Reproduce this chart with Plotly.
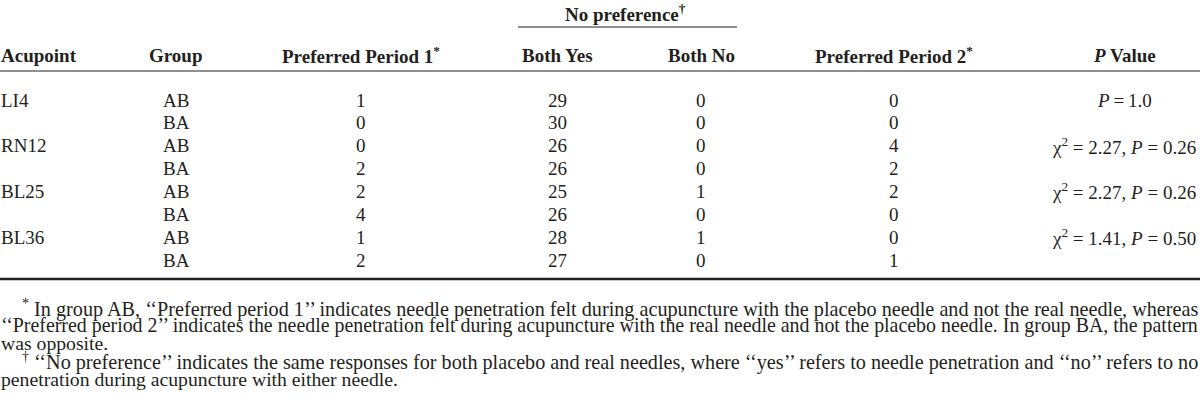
import plotly.graph_objects as go

# ---------------- data ----------------
acupoints = ["LI4", "RN12", "BL25", "BL36"]
groups = ["AB", "BA", "AB", "BA", "AB", "BA", "AB", "BA"]
preferred_period_1 = [1, 0, 0, 2, 2, 4, 1, 2]
both_yes = [29, 30, 26, 26, 25, 26, 28, 27]
both_no = [0, 0, 0, 0, 1, 0, 1, 0]
preferred_period_2 = [0, 0, 4, 2, 2, 0, 0, 1]
chi_square = [None, "2.27", "2.27", "1.41"]
p_values = ["1.0", "0.26", "0.26", "0.50"]
column_headers = ["Acupoint", "Group", "Preferred Period 1<sup>*</sup>", "Both Yes",
                  "Both No", "Preferred Period 2<sup>*</sup>", "<i>P</i> Value"]
spanner_header = "No preference<sup>†</sup>"
footnote_lines = [
    "<sup>*</sup> In group AB, ‘‘Preferred period 1’’ indicates needle penetration felt during acupuncture with the placebo needle and not the real needle, whereas",
    "‘‘Preferred period 2’’ indicates the needle penetration felt during acupuncture with the real needle and not the placebo needle. In group BA, the pattern",
    "was opposite.",
    "<sup>†</sup> ‘‘No preference’’ indicates the same responses for both placebo and real needles, where ‘‘yes’’ refers to needle penetration and ‘‘no’’ refers to no",
    "penetration during acupuncture with either needle.",
]

# ---------------- layout constants ----------------
W, H = 1200, 407
FONT = "Liberation Serif, Times New Roman, serif"
COLOR = "#231f20"
FS = 19
NOTE_SIZES = [20.2, 19.9, 19.7, 20.2, 19.7]   # justified lines are slightly wider
ROW0, ROW_H = 100, 22.86
HEADER_Y = 55
COL_X = [0, 176, 361, 557, 701, 894, 1124]
NOTE_Y = [307.5, 325, 342.5, 360.5, 379]
NOTE_X = [21, 0, 0, 21, 0]

fig = go.Figure()
ann = []


def add_text(x, y, text, anchor="center", size=FS, bold=False):
    ann.append(dict(x=x, y=y, xref="x", yref="y", text=f"<b>{text}</b>" if bold else text,
                    showarrow=False, xanchor=anchor, yanchor="middle", borderpad=0,
                    font=dict(family=FONT, size=size, color=COLOR)))


# headers
for i, h in enumerate(column_headers):
    add_text(COL_X[i], HEADER_Y, h, anchor="left" if i == 0 else "center", bold=True)
add_text(625, 13, spanner_header, bold=True)

# body
for r in range(len(groups)):
    y = ROW0 + r * ROW_H
    if r % 2 == 0:
        k = r // 2
        add_text(COL_X[0], y, acupoints[k], anchor="left")
        if chi_square[k] is None:
            pv = f"<i>P</i>\u2009=\u2009{p_values[k]}"
        else:
            pv = f"χ<sup>2</sup> = {chi_square[k]}, <i>P</i> = {p_values[k]}"
        add_text(COL_X[6], y, pv)
    add_text(COL_X[1], y, groups[r])
    add_text(COL_X[2], y, str(preferred_period_1[r]))
    add_text(COL_X[3], y, str(both_yes[r]))
    add_text(COL_X[4], y, str(both_no[r]))
    add_text(COL_X[5], y, str(preferred_period_2[r]))

# footnotes
for i, line in enumerate(footnote_lines):
    add_text(NOTE_X[i], NOTE_Y[i], line, anchor="left", size=NOTE_SIZES[i])

shapes = [
    dict(type="line", xref="x", yref="y", x0=518, x1=737, y0=27, y1=27,
         line=dict(color=COLOR, width=1.2)),
    dict(type="line", xref="x", yref="y", x0=0, x1=W, y0=71, y1=71,
         line=dict(color=COLOR, width=1.2)),
    dict(type="line", xref="x", yref="y", x0=0, x1=W, y0=279, y1=279,
         line=dict(color=COLOR, width=2.5)),
]

fig.update_layout(
    width=W, height=H,
    margin=dict(l=0, r=0, t=0, b=0),
    paper_bgcolor="white", plot_bgcolor="white",
    xaxis=dict(range=[0, W], visible=False, fixedrange=True),
    yaxis=dict(range=[H, 0], visible=False, fixedrange=True),
    annotations=ann, shapes=shapes, showlegend=False,
)

fig.write_html(
    "out.html",
    config={"displayModeBar": False},
    post_script="document.body.style.margin='0px';document.body.style.overflow='hidden';",
)
